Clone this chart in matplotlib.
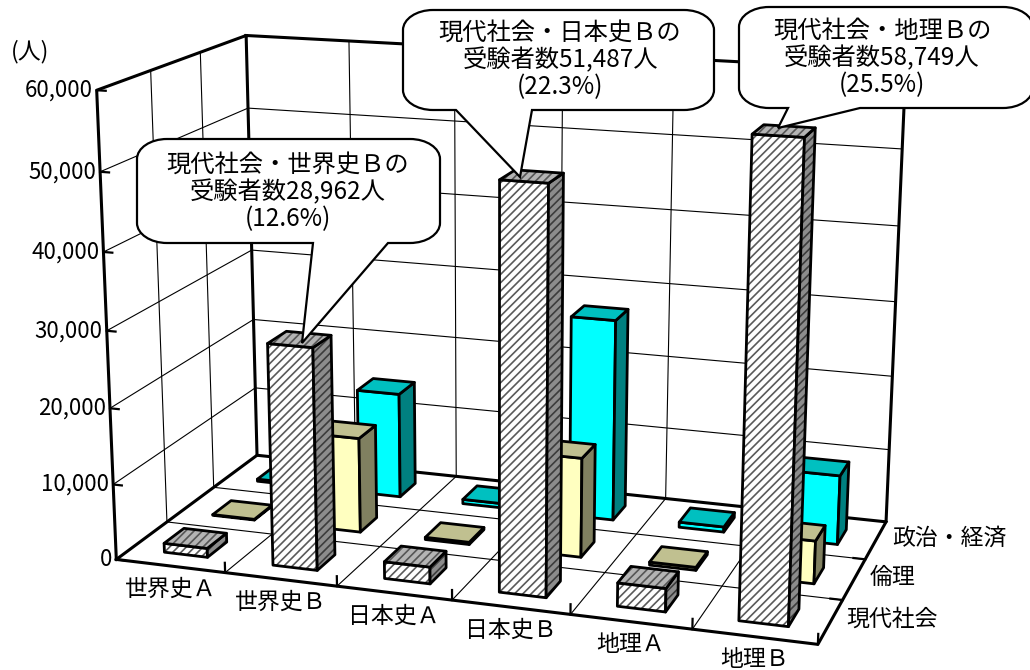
import numpy as np
import matplotlib
matplotlib.use("Agg")
import matplotlib.pyplot as plt
from matplotlib.path import Path
from matplotlib.patches import PathPatch
from matplotlib.transforms import Affine2D
from mpl_toolkits.mplot3d.art3d import Poly3DCollection

plt.rcParams['font.family'] = ['Noto Sans CJK JP', 'DejaVu Sans']
plt.rcParams['hatch.linewidth'] = 1.2

W, H = 1030, 670

# ---- data ----
subjects = ['世界史Ａ', '世界史Ｂ', '日本史Ａ', '日本史Ｂ', '地理Ａ', '地理Ｂ']
rows = ['現代社会', '倫理', '政治・経済']
gendai = [1200, 28962, 2200, 51487, 3000, 58749]
rinri = [100, 12800, 300, 13200, 400, 5600]
seikei = [300, 14500, 600, 27300, 700, 9300]
z_ticks = [0, 10000, 20000, 30000, 40000, 50000, 60000]
z_labels = ['0', '10,000', '20,000', '30,000', '40,000', '50,000', '60,000']
unit_label = '(人)'
callouts = [
    ('現代社会・世界史Ｂの\n受験者数28,962人\n(12.6%)', 288, 192),
    ('現代社会・日本史Ｂの\n受験者数51,487人\n(22.3%)', 560, 60),
    ('現代社会・地理Ｂの\n受験者数58,749人\n(25.5%)', 882, 58),
]

# ---- camera: reference corners of the chart box -> picture position ----
calib = np.array([
    (0, 0, 0, 116.7, 559), (0, 0, 6, 97, 90), (0, 3, 6, 247, 35), (0, 3, 0, 257, 455),
    (6, 0, 0, 818, 645), (6, 3, 0, 887, 521), (6, 3, 6, 905, 71),
    (1, 0, 0, 225, 573), (2, 0, 0, 338, 587), (3, 0, 0, 453, 600), (5, 0, 0, 693, 628),
    (2, 3, 0, 455, 477), (4, 3, 0, 666, 498),
    (1, 3, 6, 350, 41), (2, 3, 6, 454, 47), (3, 3, 6, 562, 53), (4, 3, 6, 672, 59),
    (6, 1, 0, 840, 600), (6, 2, 0, 865, 560),
    (0, 0, 5, 100, 172), (0, 0, 4, 103, 250), (0, 0, 3, 106, 332), (0, 0, 2, 110, 408), (0, 0, 1, 113, 485),
    (0, 3, 5, 248, 108), (6, 3, 5, 905, 148),
])
A = []
for X, Y, Z, u, v in calib:
    u, v = u / 1000, v / 1000
    A.append([X, Y, Z, 1, 0, 0, 0, 0, -u * X, -u * Y, -u * Z, -u])
    A.append([0, 0, 0, 0, X, Y, Z, 1, -v * X, -v * Y, -v * Z, -v])
P = np.linalg.svd(np.array(A))[2][-1].reshape(3, 4)
P[:2] *= 1000
P[:, 2] /= 10000.0     # z is given in persons


def to_px(x, y, z):
    h = P @ np.array([x, y, z, 1.0])
    return h[0] / h[2], h[1] / h[2]


fig = plt.figure(figsize=(W / 100, H / 100), dpi=100, facecolor='white')
ax = fig.add_axes([0, 0, 1, 1], projection='3d', computed_zorder=False)
ax.set_axis_off()
ax.apply_aspect = lambda position=None: None


def get_proj():
    x0, x1 = ax.viewLim.intervalx
    y0, y1 = ax.viewLim.intervaly
    r1 = x0 * P[2] + (x1 - x0) / W * P[0]
    r2 = y1 * P[2] + (y0 - y1) / H * P[1]
    return np.array([r1, r2, [0, 0, 0, 1.0], P[2]])


ax.get_proj = get_proj

nx, ny, zmax = len(subjects), len(rows), z_ticks[-1]
thin = dict(color='black', lw=0.8, zorder=1)
thick = dict(color='black', lw=2.2, zorder=2, solid_capstyle='projecting')

# grid
for z in z_ticks[1:-1]:
    ax.plot([0, 0, nx], [0, ny, ny], [z, z, z], **thin)
for x in range(1, nx):
    ax.plot([x, x, x], [0, ny, ny], [0, 0, zmax], **thin)
for y in range(1, ny):
    ax.plot([0, 0, nx], [y, y, y], [zmax, 0, 0], **thin)
# box
ax.plot([0, 0, 0, 0, nx, nx, 0], [0, 0, ny, ny, ny, ny, ny], [0, zmax, zmax, 0, 0, zmax, zmax], **thick)
ax.plot([0, nx, nx, nx], [0, 0, ny, ny], [0, 0, 0, 0], **thick)
ax.plot([0, 0], [0, ny], [0, 0], **thick)
# ticks
for z in z_ticks:
    ax.plot([0, 0.08], [0, 0], [z, z], color='black', lw=1.6, zorder=2)
for x in range(1, nx + 1):
    ax.plot([x, x], [0, 0], [0, 1300], color='black', lw=1.6, zorder=2)
for y in range(1, ny):
    ax.plot([nx, nx - 0.1], [y, y], [0, 0], color='black', lw=1.6, zorder=2)

styles = [
    dict(front=('white', '#5a5a5a'), top=('#b4b4b4', '#555555'), side=('#8c8c8c', '#3c3c3c')),
    dict(front=('#FFFFC0', None), top=('#C0C090', None), side=('#808060', None)),
    dict(front=('#00FFFF', None), top=('#00C0C0', None), side=('#008080', None)),
]
series = [gendai, rinri, seikei]
clear = (0, 0, 0, 0)
order = 10
for j in reversed(range(ny)):
    for i in range(nx):
        v = series[j][i]
        x0, x1, y0, y1 = i + 0.3, i + 0.7, j + 0.3, j + 0.7
        faces = dict(
            front=[(x0, y0, 0), (x1, y0, 0), (x1, y0, v), (x0, y0, v)],
            side=[(x1, y0, 0), (x1, y1, 0), (x1, y1, v), (x1, y0, v)],
            top=[(x0, y0, v), (x1, y0, v), (x1, y1, v), (x0, y1, v)],
        )
        for name, verts in faces.items():
            fc, hc = styles[j][name]
            if hc is None:
                fill = Poly3DCollection([verts], facecolors=[fc], edgecolors=[clear], linewidths=0)
            else:
                fill = Poly3DCollection([verts], facecolors=[fc], edgecolors=[hc], linewidths=0, hatch='////')
            fill.set_zorder(order)
            ax.add_collection3d(fill, autolim=False)
            line = Poly3DCollection([verts], facecolors=[clear], edgecolors=['black'], linewidths=2.0)
            line.set_zorder(order + 1)
            ax.add_collection3d(line, autolim=False)
            order += 2

# axis text
label_fs = 16.5
for i, s in enumerate(subjects):
    u, v = to_px(i + 0.5, 0, 0)
    fig.text(u / W, 1 - (v + 23) / H, s, ha='center', va='center', fontsize=label_fs)
for j, s in enumerate(rows):
    u, v = to_px(nx, j + 0.5, 0)
    fig.text((u + 16) / W, 1 - (v - 2) / H, s, ha='left', va='center', fontsize=label_fs)
for z, s in zip(z_ticks, z_labels):
    u, v = to_px(0, 0, z)
    fig.text((u - 4) / W, 1 - v / H, s, ha='right', va='center', fontsize=16)
fig.text(30 / W, 1 - 52 / H, unit_label, ha='center', va='center', fontsize=label_fs)

# callouts (in picture pixels)
px_tr = Affine2D().scale(1, -1).translate(0, H)


def balloon(x0, y0, x1, y1, b_right, b_left, tip, rx=30, ry=20):
    k = 0.55
    verts = [(x0 + rx, y0), (x1 - rx, y0),
             (x1 - rx * (1 - k), y0), (x1, y0 + ry * (1 - k)), (x1, y0 + ry),
             (x1, y1 - ry),
             (x1, y1 - ry * (1 - k)), (x1 - rx * (1 - k), y1), (x1 - rx, y1),
             (b_right, y1), tip, (b_left, y1), (x0 + rx, y1),
             (x0 + rx * (1 - k), y1), (x0, y1 - ry * (1 - k)), (x0, y1 - ry),
             (x0, y0 + ry),
             (x0, y0 + ry * (1 - k)), (x0 + rx * (1 - k), y0), (x0 + rx, y0),
             (x0 + rx, y0)]
    L, C = Path.LINETO, Path.CURVE4
    codes = [Path.MOVETO, L, C, C, C, L, C, C, C, L, L, L, L, C, C, C, L, C, C, C, Path.CLOSEPOLY]
    fig.add_artist(PathPatch(Path(verts, codes), facecolor='white', edgecolor='black',
                             linewidth=1.6, transform=px_tr, zorder=5))


balloon(137, 139, 440, 243, 388, 313, (302, 343))
balloon(403, 10, 714, 110, 532, 456, (520, 177))
balloon(739, 7, 1033, 108, 860, 788, (778, 128))
for s, u, v in callouts:
    fig.text(u / W, 1 - v / H, s, ha='center', va='center', fontsize=17.5,
             linespacing=1.05, zorder=6)

fig.savefig('out.png', dpi=100)
